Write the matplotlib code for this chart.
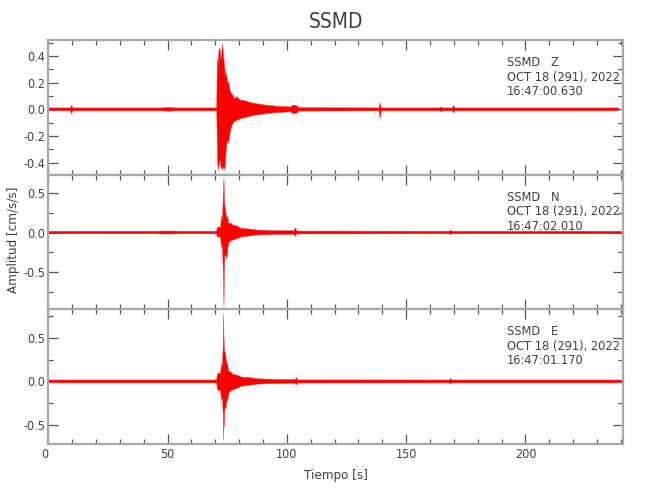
import numpy as np
import matplotlib
matplotlib.use("Agg")
import matplotlib.pyplot as plt
from matplotlib.ticker import MultipleLocator

plt.rcParams['font.family'] = ['DejaVu Sans']
plt.rcParams['font.stretch'] = 'condensed'

# ---------------- data (envelopes) ----------------
title = "SSMD"
components = ["Z", "N", "E"]
start_times = ["16:47:00.630", "16:47:02.010", "16:47:01.170"]
date_label = "OCT 18 (291), 2022"

# Z component: upper envelope
z_up_t = [0, 9.3, 9.8, 10.3, 48, 50.5, 53, 70.6, 70.84, 71.12, 71.54, 71.96, 72.38, 72.7,
          73.08, 73.5, 73.92, 74.34, 74.76, 75.17, 75.59, 76.15, 76.71, 77.27, 78.11, 79.09,
          80.5, 82.5, 85, 88, 92, 97, 101.5, 102.5, 104, 105, 138.6, 139.1, 139.6,
          164.2, 164.7, 165.2, 169.4, 169.9, 170.4, 239]
z_up_v = [0.011, 0.011, 0.03, 0.011, 0.011, 0.015, 0.011, 0.011, 0.38, 0.32, 0.445, 0.46, 0.37, 0.42,
          0.49, 0.395, 0.32, 0.245, 0.27, 0.195, 0.21, 0.145, 0.12, 0.11, 0.08, 0.095,
          0.07, 0.065, 0.05, 0.04, 0.03, 0.022, 0.018, 0.032, 0.03, 0.013, 0.011, 0.05, 0.011,
          0.011, 0.018, 0.011, 0.011, 0.03, 0.011, 0.011]
# Z component: lower envelope
z_lo_t = [0, 9.3, 9.8, 10.3, 48, 50.5, 53, 70.6, 70.98, 71.4, 71.96, 72.52, 73.08, 73.64,
          74.06, 74.48, 75.03, 75.59, 76.15, 76.99, 78.11, 79.5, 81, 83, 86, 90, 95,
          101.5, 102.5, 104, 105, 138.6, 139.1, 139.6, 164.2, 164.7, 165.2,
          169.4, 169.9, 170.4, 239]
z_lo_v = [-0.011, -0.011, -0.035, -0.011, -0.011, -0.015, -0.011, -0.011, -0.405, -0.455, -0.38, -0.44,
          -0.45, -0.43, -0.455, -0.33, -0.23, -0.255, -0.18, -0.12, -0.09, -0.08, -0.068, -0.06,
          -0.045, -0.035, -0.025, -0.018, -0.032, -0.03, -0.013, -0.011, -0.07, -0.011,
          -0.011, -0.018, -0.011, -0.011, -0.03, -0.011, -0.011]

# N component
n_up_t = [0, 45, 50, 56, 70.6, 70.8, 71.5, 72.2, 72.6, 73.0, 73.45, 73.64, 73.8, 73.95, 74.3,
          74.7, 75.2, 75.6, 76.5, 77.5, 79, 81, 84, 88, 95, 103, 103.6, 104.2,
          168.1, 168.6, 169.1, 241]
n_up_v = [0.016, 0.016, 0.019, 0.016, 0.016, 0.06, 0.07, 0.06, 0.21, 0.15, 0.55, 0.68, 0.5, 0.34, 0.3,
          0.19, 0.2, 0.11, 0.12, 0.09, 0.085, 0.05, 0.045, 0.03, 0.024, 0.022, 0.06, 0.018,
          0.016, 0.032, 0.016, 0.016]
n_lo_t = [0, 45, 50, 56, 70.6, 70.8, 71.8, 72.2, 72.6, 73.0, 73.45, 73.64, 73.8, 74.0, 74.4,
          74.9, 75.3, 75.8, 77, 79, 81, 84, 88, 95, 103, 103.6, 104.2,
          168.1, 168.6, 169.1, 241]
n_lo_v = [-0.016, -0.016, -0.019, -0.016, -0.016, -0.06, -0.05, -0.06, -0.2, -0.15, -0.6, -0.945,
          -0.52, -0.3, -0.29, -0.33, -0.2, -0.12, -0.1, -0.08, -0.055, -0.045, -0.03, -0.024,
          -0.022, -0.05, -0.018, -0.016, -0.03, -0.016, -0.016]

# E component
e_up_t = [0, 70.6, 70.8, 71.5, 72.2, 72.6, 73.0, 73.35, 73.5, 73.65, 73.9, 74.3, 74.7, 75.2,
          75.6, 76.5, 77.5, 79.5, 81, 84, 88, 95, 103.5, 104, 104.5, 168.1, 168.6, 169.1, 241]
e_up_v = [0.017, 0.017, 0.08, 0.1, 0.09, 0.2, 0.17, 0.45, 0.78, 0.5, 0.35, 0.33, 0.22, 0.2,
          0.12, 0.11, 0.08, 0.07, 0.05, 0.045, 0.03, 0.024, 0.022, 0.045, 0.018, 0.017, 0.034,
          0.017, 0.017]
e_lo_t = [0, 70.6, 70.8, 71.5, 72.2, 72.6, 73.0, 73.35, 73.5, 73.65, 73.8, 74.0, 74.4, 74.8,
          75.3, 75.8, 77, 79.5, 81, 84, 88, 95, 103.5, 104, 104.5, 168.1, 168.6, 169.1, 241]
e_lo_v = [-0.017, -0.017, -0.08, -0.11, -0.1, -0.22, -0.18, -0.4, -0.68, -0.4, -0.53, -0.3,
          -0.32, -0.24, -0.2, -0.13, -0.1, -0.075, -0.055, -0.045, -0.03, -0.024, -0.022,
          -0.042, -0.018, -0.017, -0.03, -0.017, -0.017]

traces = [(z_up_t, z_up_v, z_lo_t, z_lo_v),
          (n_up_t, n_up_v, n_lo_t, n_lo_v),
          (e_up_t, e_up_v, e_lo_t, e_lo_v)]

ylims = [(-0.49, 0.52), (-0.97, 0.73), (-0.72, 0.83)]
ymajor = [0.2, 0.5, 0.5]
yminor = [0.1, 0.25, 0.25]
xlim = (0, 241)
xticks = [0, 50, 100, 150, 200]
xlabel = "Tiempo [s]"
ylabel = "Amplitud [cm/s/s]"

# ---------------- figure ----------------
fig = plt.figure(figsize=(6.5, 5.0), dpi=100)
txt_color = "#404040"
spine_color = "#a8a8a8"
tick_color = "#555555"

left, width = 0.0743, 0.8846
h = 0.2693
bottoms = [0.112 + 2 * h, 0.112 + h, 0.112]
axes = []
for i in range(3):
    ax = fig.add_axes([left, bottoms[i], width, h])
    axes.append(ax)
    ut, uv, lt, lv = traces[i]
    xs = np.concatenate([np.asarray(ut, float), np.asarray(lt, float)[::-1]])
    ys = np.concatenate([np.asarray(uv, float), np.asarray(lv, float)[::-1]])
    ax.fill(xs, ys, color="#ff0000", lw=0.3, ec="#ff3030")
    ax.set_xlim(*xlim)
    ax.set_ylim(*ylims[i])
    ax.xaxis.set_major_locator(MultipleLocator(50))
    ax.xaxis.set_minor_locator(MultipleLocator(10))
    ax.yaxis.set_major_locator(MultipleLocator(ymajor[i]))
    ax.yaxis.set_minor_locator(MultipleLocator(yminor[i]))
    ax.yaxis.set_major_formatter(matplotlib.ticker.FormatStrFormatter('%.1f'))
    ax.tick_params(which='both', direction='in', top=True, right=True,
                   color=tick_color, labelcolor=txt_color, labelsize=9, width=0.9)
    ax.tick_params(which='major', length=7, pad=2)
    ax.tick_params(which='minor', length=3.5)
    ax.tick_params(axis='x', pad=3)
    for s in ax.spines.values():
        s.set_color(spine_color)
        s.set_linewidth(1.6)
    if i < 2:
        ax.tick_params(axis='x', labelbottom=False)
    tr = ax.transAxes
    ax.text(0.797, 0.807, f"SSMD   {components[i]}", transform=tr, fontsize=9.2,
            color=txt_color, va='baseline', ha='left')
    ax.text(0.797, 0.699, date_label, transform=tr, fontsize=9.2,
            color=txt_color, va='baseline', ha='left')
    ax.text(0.797, 0.592, start_times[i], transform=tr, fontsize=9.2,
            color=txt_color, va='baseline', ha='left')

ax3 = axes[2]
ax3.set_xticks(xticks)
lbls = ax3.set_xticklabels([str(v) for v in xticks])
lbls[0].set_ha('right')
ax3.set_xlabel(xlabel, fontsize=9.5, color=txt_color, labelpad=6)

fig.text(14 / 650, 1 - 240 / 500, ylabel, rotation=90, fontsize=9.5,
         color=txt_color, ha='center', va='center')
fig.text(336 / 650, 1 - 22 / 500, title, fontsize=15, color=txt_color,
         ha='center', va='center')

fig.savefig("out.png", dpi=100)
